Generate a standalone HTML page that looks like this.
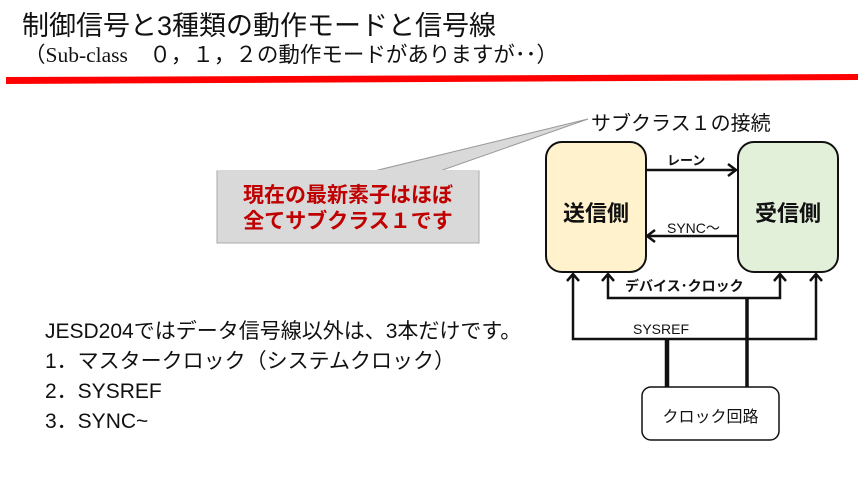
<!DOCTYPE html>
<html><head><meta charset="utf-8"><style>
body{margin:0;width:858px;height:485px;background:#fff;overflow:hidden;position:relative;font-family:"Liberation Sans","Noto Sans CJK JP",sans-serif}
.t{position:absolute;white-space:nowrap}
</style></head><body>
<div class="t" style="left:22px;top:4px;font-size:27px;color:#111">制御信号と3種類の動作モードと信号線</div>
<div class="t" style="left:24px;top:38px;font-size:21.5px;color:#111;font-family:'Liberation Serif','Noto Sans CJK JP',serif">（Sub-class　０，１，２の動作モードがありますが･･）</div>
<svg width="858" height="485" style="position:absolute;left:0;top:0">
<polygon points="6,77 858,74 858,80 6,84" fill="#f00"/>
<polygon points="217,171 479,171 479,243 217,243" fill="#d9d9d9" stroke="#aaa"/>
<polygon points="370,172 588,119 437,172" fill="#d9d9d9" stroke="#999"/>
<rect x="218" y="170" width="260" height="4" fill="#d9d9d9"/>
<rect x="546" y="142" width="100" height="130" rx="16" fill="#fff2cc" stroke="#111" stroke-width="2"/>
<rect x="738" y="142" width="100" height="130" rx="16" fill="#e2efd9" stroke="#111" stroke-width="2"/>
<rect x="642" y="387" width="137" height="53" rx="9" fill="#fff" stroke="#111" stroke-width="1.5"/>
<g stroke="#111" stroke-width="2.5" fill="none">
<line x1="646" y1="170" x2="735" y2="170"/><polyline points="728,164 736,170 728,176"/>
<line x1="738" y1="236" x2="648" y2="236"/><polyline points="655,230 647,236 655,242"/>
<polyline points="608,274 608,298 780,298 780,274"/>
<polyline points="602,281 608,274 614,281"/><polyline points="774,281 780,274 786,281"/>
<polyline points="573,274 573,339 816,339 816,274"/>
<polyline points="567,281 573,274 579,281"/><polyline points="810,281 816,274 822,281"/>
</g>
<line x1="747" y1="298" x2="747" y2="387" stroke="#111" stroke-width="3.5"/>
<line x1="667" y1="339" x2="667" y2="387" stroke="#111" stroke-width="4.5"/>
</svg>
<div class="t" style="left:591px;top:107px;font-size:20px;color:#111">サブクラス１の接続</div>
<div class="t" style="left:217px;top:183px;width:262px;text-align:center;font-size:21px;font-weight:bold;color:#c00000;line-height:26px">現在の最新素子はほぼ<br>全てサブクラス１です</div>
<div class="t" style="left:546px;top:196px;width:100px;text-align:center;font-size:22px;font-weight:bold;color:#111">送信側</div>
<div class="t" style="left:738px;top:196px;width:100px;text-align:center;font-size:22px;font-weight:bold;color:#111">受信側</div>
<div class="t" style="left:667px;top:150px;font-size:13px;font-weight:bold;color:#111">レーン</div>
<div class="t" style="left:667px;top:218px;font-size:14px;color:#111">SYNC～</div>
<div class="t" style="left:625px;top:276px;font-size:14px;font-weight:bold;color:#111">デバイス･クロック</div>
<div class="t" style="left:633px;top:321px;font-size:14px;color:#111">SYSREF</div>
<div class="t" style="left:642px;top:403px;width:137px;text-align:center;font-size:16px;color:#111">クロック回路</div>
<div class="t" style="left:45px;top:317px;font-size:21px;color:#111;line-height:30px">JESD204ではデータ信号線以外は、3本だけです。<br>1．マスタークロック（システムクロック）<br>2．SYSREF<br>3．SYNC~</div>
</body></html>
